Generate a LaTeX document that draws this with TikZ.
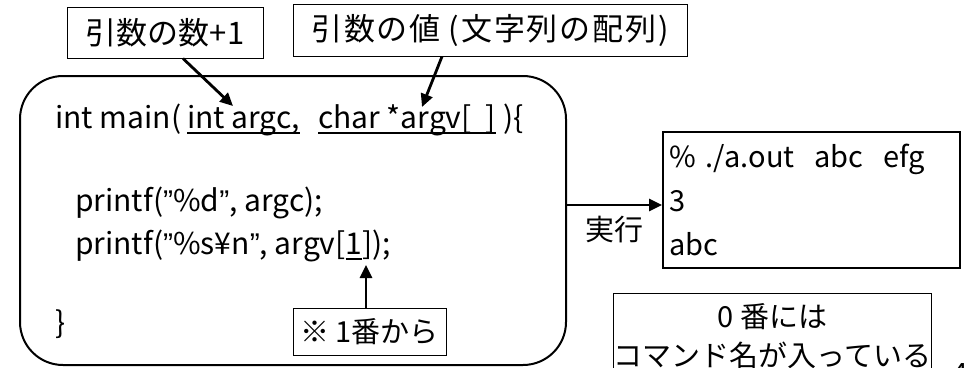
\documentclass[tikz,border=0pt]{standalone}
\usepackage{fontspec}
\setmainfont{Noto Sans CJK JP}
\newfontfamily\codefont{Noto Sans CJK JP}
\newfontfamily\quotefont{Liberation Sans}
\usetikzlibrary{positioning,arrows.meta}

\newcommand{\labelfont}{\fontsize{31}{36}\selectfont}
\newcommand{\codesize}{\fontsize{30}{34}\selectfont}
\newcommand{\notesize}{\fontsize{29}{34}\selectfont}
\newcommand{\outsize}{\fontsize{29}{44}\selectfont}
\newcommand{\dq}{{\quotefont ”}}
\newcommand{\codeul}[1]{\setbox0\hbox{#1}\rlap{\rule[-6pt]{\wd0}{2pt}}\box0}

\tikzset{
  notebox/.style={draw,line width=1pt,inner sep=0pt,align=center},
  codeline/.style={anchor=base west,inner sep=0pt,font=\codefont\codesize},
  pointer/.style={line width=2.8pt,-{Triangle[length=13pt,width=12pt]}},
}

\begin{document}
\begin{tikzpicture}[x=1pt,y=-1pt]
\useasboundingbox (0,0) rectangle (968,367);
\clip (0,0) rectangle (968,367);

% main program
\draw[line width=2pt,rounded corners=43pt] (20,76) rectangle (566,365);
\node[codeline] (codeA) at (55,128)
   {int main(\hspace{6pt}\codeul{int argc,}\hspace{18pt}\codeul{char *argv[\hspace{14pt}]}\hspace{8pt})\{};
\node[codeline] (codeB) at (75,211) {printf(\dq\%d\dq, argc);};
\node[codeline] (codeC) at (75,254) {printf(\dq\%s¥n\dq, argv[\codeul{1}]);};
\node[codeline] (codeD) at (55,333) {\}};
\coordinate (mainR) at (566,205);

% notes
\node[notebox,font=\labelfont,minimum width=196pt,minimum height=51pt]
   (argcnote) at (165,32.5) {引数の数+1};
\node[notebox,font=\labelfont,minimum width=394pt,minimum height=52pt]
   (argvnote) at (490,30)
   {\addfontfeature{LetterSpace=6}引数の値\hspace{8pt}(文字列の配列)};
\node[notebox,font=\notesize,minimum width=153pt,minimum height=47pt]
   (onenote) at (369.5,331.5) {※ 1番から};
\coordinate (argcend) at (233,106);
\coordinate (argvend) at (422,107);
\coordinate (oneend) at (366,265);
\draw[pointer] ([xshift=18pt]argcnote.south) -- (argcend);
\draw[pointer] ([xshift=-48pt]argvnote.south) -- (argvend);
\draw[pointer] (onenote.north -| oneend) -- (oneend);

% result
\node[draw,line width=2pt,font=\outsize,align=left,text width=284pt,
      minimum width=297pt,minimum height=136pt,inner xsep=6pt]
   (outbox) at (811.5,200) {\% ./a.out\hspace{20pt}abc\hspace{20pt}efg\\3\\abc};
\draw[pointer] (mainR) -- (mainR -| outbox.west)
   node[midway,below=6pt,font=\notesize] (execlbl) {実行};

\node[notebox,font=\notesize,minimum width=299pt,anchor=north,
      inner ysep=10pt,text depth=0pt]
   (zeronote) at (772.5,293) {0 番には\\[5pt]コマンド名が入っている};
\node[font=\fontsize{28}{32}\selectfont] (pagenum) at (960,374) {4};
\end{tikzpicture}
\end{document}
